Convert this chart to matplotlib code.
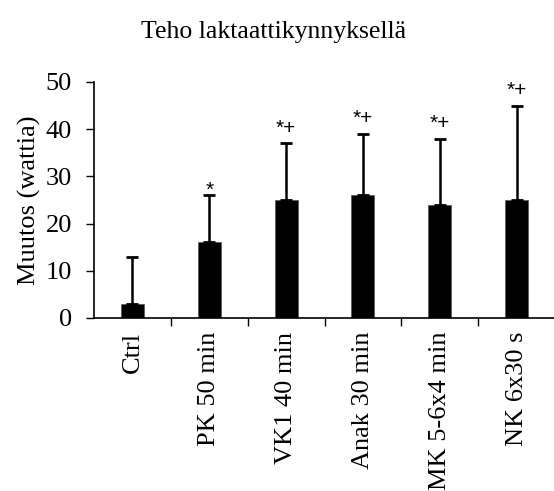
import matplotlib as mpl
mpl.use('Agg')
import matplotlib.pyplot as plt

categories = ['Ctrl', 'PK 50 min', 'VK1 40 min', 'Anak 30 min', 'MK 5-6x4 min', 'NK 6x30 s']
means = [3, 16, 25, 26, 24, 25]
sds = [10, 10, 12, 13, 14, 20]
marks = ['', '*', '*+', '*+', '*+', '*+']

plt.rcParams['font.family'] = 'Liberation Serif'

fig = plt.figure(figsize=(5.54, 4.91), dpi=100, facecolor='w')
ax = fig.add_axes([94/554, 1-318/491, 461/554, 236/491])

xs = range(len(categories))
ax.bar(xs, means, width=0.3, color='black', edgecolor='#555555', linewidth=0.5)
ax.errorbar(xs, means, yerr=[[0]*len(sds), sds], fmt='none', ecolor='black',
            elinewidth=1.8, capsize=4, capthick=2)
for x, m, s, t in zip(xs, means, sds, marks):
    if t:
        # lone star sits closer to the cap than the "*+" pairs
        off = 4 if '+' in t else -3
        ax.annotate(t, (x, m+s), xytext=(0, off), textcoords='offset points',
                    ha='center', va='bottom', fontsize=15, family='Liberation Sans')

ax.set_xlim(-0.5, 5.5)
ax.set_ylim(0, 50)
ax.set_yticks([0, 10, 20, 30, 40, 50])
ax.tick_params(axis='y', direction='out', length=6, width=1, labelsize=19, pad=10)
ax.set_xticks([0.5, 1.5, 2.5, 3.5, 4.5])
ax.set_xticklabels([])
ax.tick_params(axis='x', which='major', direction='out', length=6, width=1)
ax.set_xticks(list(xs), minor=True)
ax.set_xticklabels(categories, minor=True, rotation=90, fontsize=19, va='top', ha='center')
ax.tick_params(axis='x', which='minor', length=0, pad=10)

for s in ['top', 'right']:
    ax.spines[s].set_visible(False)
ax.spines['left'].set_linewidth(1.2)
ax.spines['bottom'].set_linewidth(1.2)

ax.set_ylabel('Muutos (wattia)', fontsize=19)
ax.yaxis.set_label_coords(-0.115, 0.5)
fig.text(274/554, 1-32/491, 'Teho laktaattikynnyksellä', ha='center', va='center', fontsize=18.5)

plt.savefig('out.png', dpi=100)
